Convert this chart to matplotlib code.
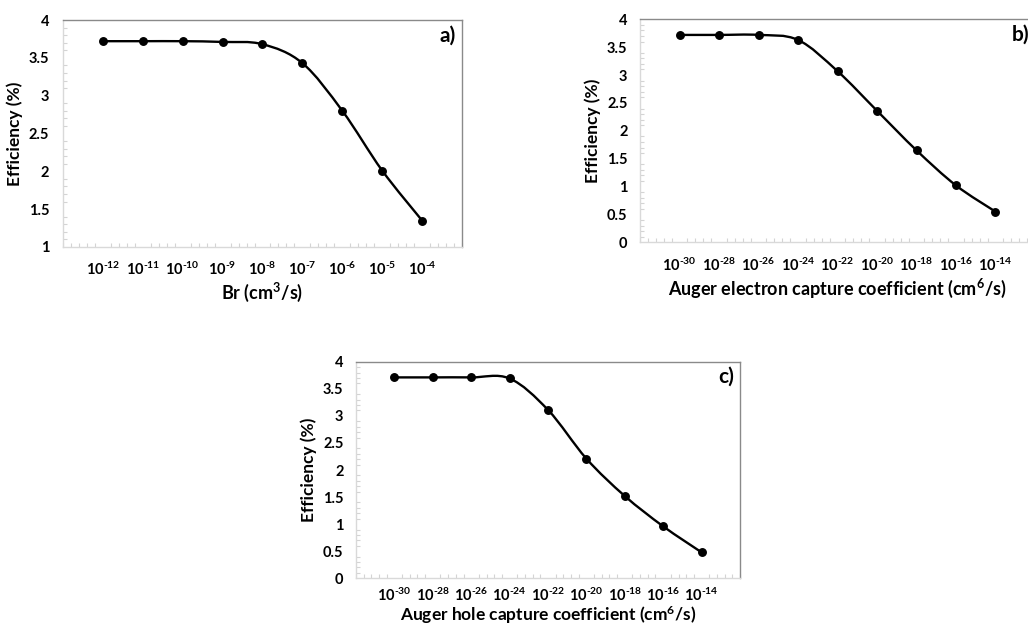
import matplotlib
matplotlib.use("Agg")
import matplotlib.pyplot as plt
from matplotlib.path import Path
from matplotlib.patches import PathPatch
from matplotlib.ticker import MultipleLocator, FixedLocator

plt.rcParams['font.family'] = ['Lato', 'DejaVu Sans']
plt.rcParams['font.weight'] = 'bold'
plt.rcParams['mathtext.fontset'] = 'custom'
plt.rcParams['mathtext.rm'] = 'Lato:bold'
plt.rcParams['mathtext.bf'] = 'Lato:bold'
plt.rcParams['mathtext.it'] = 'Lato:bold'

# a) radiative recombination coefficient Br
br_labels = ['-12', '-11', '-10', '-9', '-8', '-7', '-6', '-5', '-4']
br_eff = [3.72, 3.72, 3.72, 3.71, 3.68, 3.43, 2.80, 2.01, 1.35]

# b) Auger electron capture coefficient
cn_labels = ['-30', '-28', '-26', '-24', '-22', '-20', '-18', '-16', '-14']
cn_eff = [3.72, 3.72, 3.72, 3.63, 3.07, 2.36, 1.65, 1.02, 0.55]

# c) Auger hole capture coefficient
cp_labels = ['-30', '-28', '-26', '-24', '-22', '-20', '-18', '-16', '-14']
cp_eff = [3.71, 3.71, 3.71, 3.69, 3.11, 2.21, 1.52, 0.96, 0.48]


def smooth_path(xs, ys):
    # Catmull-Rom style bezier segments (like a spreadsheet "smoothed line")
    n = len(xs)
    verts = [(xs[0], ys[0])]
    codes = [Path.MOVETO]
    for i in range(n - 1):
        i0 = max(i - 1, 0)
        i3 = min(i + 2, n - 1)
        c1 = (xs[i] + (xs[i + 1] - xs[i0]) / 6, ys[i] + (ys[i + 1] - ys[i0]) / 6)
        c2 = (xs[i + 1] - (xs[i3] - xs[i]) / 6, ys[i + 1] - (ys[i3] - ys[i]) / 6)
        verts += [c1, c2, (xs[i + 1], ys[i + 1])]
        codes += [Path.CURVE4] * 3
    return Path(verts, codes)


def draw_panel(ax, labels, eff, ymin, xlabel, tag, ypad,
               xtick_pad=10, xlabel_pad=2, xlabel_size=13):
    xs = list(range(len(eff)))
    ax.add_patch(PathPatch(smooth_path(xs, eff), facecolor='none',
                           edgecolor='black', lw=1.7, zorder=2))
    ax.plot(xs, eff, 'o', color='black', ms=5.4, zorder=3)

    ax.set_xlim(-1, 9)
    ax.set_ylim(ymin, 4)
    ax.xaxis.set_major_locator(FixedLocator(xs))
    # short hyphen in the exponent instead of the math minus
    ax.set_xticklabels([r'$10^{\text{-}%s}$' % s.lstrip('-') for s in labels])
    ax.xaxis.set_minor_locator(MultipleLocator(0.2))
    ax.yaxis.set_major_locator(MultipleLocator(0.5))
    ax.yaxis.set_minor_locator(MultipleLocator(0.1))
    ax.yaxis.set_major_formatter(plt.FuncFormatter(lambda v, p: '%g' % v))

    ax.tick_params(axis='x', which='major', length=0, pad=xtick_pad, labelsize=10.5)
    ax.tick_params(axis='y', which='major', length=0, pad=ypad, labelsize=10.5)
    ax.tick_params(which='minor', direction='in', length=3, color='#d4d4d4', width=0.8)

    for side in ['left', 'bottom']:
        ax.spines[side].set_color('#d9d9d9')
    for side in ['top', 'right']:
        ax.spines[side].set_color('#8a8a8a')
    for sp in ax.spines.values():
        sp.set_linewidth(1.0)

    ax.set_ylabel('Efficiency (%)', fontsize=12.5, fontweight='bold', labelpad=4)
    ax.set_xlabel(xlabel, fontsize=xlabel_size, fontweight='bold', labelpad=xlabel_pad)
    ax.text(0.985, 0.93, tag, transform=ax.transAxes, ha='right', va='center',
            fontsize=15, fontweight='bold', clip_on=False)


fig = plt.figure(figsize=(10.28, 6.25), dpi=100)

ax_a = fig.add_axes([0.0613, 0.6048, 0.3881, 0.3632])
ax_b = fig.add_axes([0.6226, 0.6123, 0.3842, 0.3568])
ax_c = fig.add_axes([0.3463, 0.0747, 0.3735, 0.3466])

draw_panel(ax_a, br_labels, br_eff, 1, 'Br (cm$^3$/s)', 'a)', 10)
draw_panel(ax_b, cn_labels, cn_eff, 0,
           'Auger electron capture coefficient (cm$^6$/s)', 'b)', 9)
draw_panel(ax_c, cp_labels, cp_eff, 0,
           'Auger hole capture coefficient (cm$^6$/s)', 'c)', 9,
           xtick_pad=6, xlabel_pad=0, xlabel_size=12.5)

fig.savefig('out.png', dpi=100)
